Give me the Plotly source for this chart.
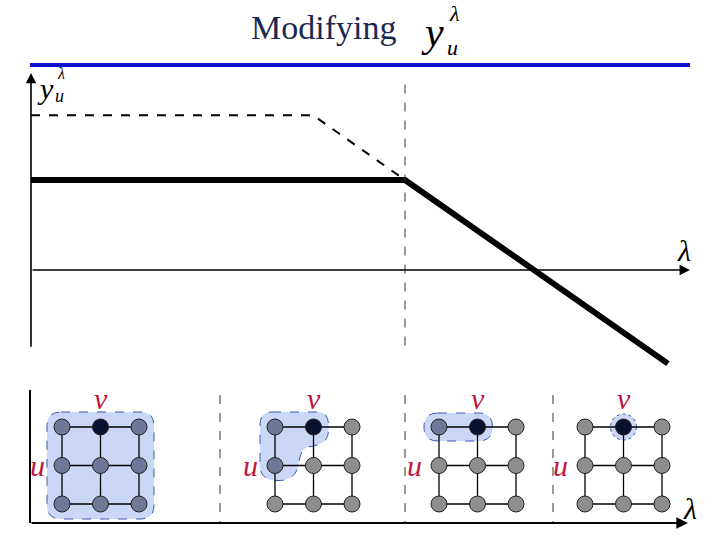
import plotly.graph_objects as go

# ---------------- data ----------------
# upper chart (lambda on x, y_u^lambda on y)
lam_solid = [0.0, 1.0, 1.703]
y_solid = [1.0, 1.0, -1.04]
lam_dash = [0.0, 0.754, 1.0]
y_dash = [1.72, 1.72, 1.0]
lam_threshold = 1.0

# lower panels: 3x3 grids, state of each node (row by row, top row first)
# 'v' = node v, 'h' = in highlighted set, 'g' = other node
panel_states = [
    ["hvh", "hhh", "hhh"],
    ["hvg", "hgg", "ggg"],
    ["hvg", "ggg", "ggg"],
    ["gvg", "ggg", "ggg"],
]
panel_x0 = [62, 275, 439, 585]   # left column centre of each panel
grid_top = 427
grid_step = 38.5
separators_x = [220, 405, 553]

# ---------------- styles ----------------
RED = "#C0143C"
NAVY = "#0A1030"
HL = "#6E7899"
GREY = "#8E8E8E"
BLOB_FILL = "rgba(160,182,240,0.55)"
BLOB_LINE = "#3A5AA8"
SERIF = "Liberation Serif"

fig = go.Figure()

# upper chart lines
fig.add_trace(go.Scatter(x=lam_dash, y=y_dash, mode="lines",
                         line=dict(color="black", width=2, dash="dash"),
                         hoverinfo="skip"))
fig.add_trace(go.Scatter(x=lam_solid, y=y_solid, mode="lines",
                         line=dict(color="black", width=6),
                         hoverinfo="skip"))

shapes = []
annotations = []

# axes of the upper chart (arrows)
annotations.append(dict(x=1.762, y=0, ax=0, ay=0, xref="x", yref="y",
                        axref="x", ayref="y", showarrow=True, arrowhead=2,
                        arrowsize=1.3, arrowwidth=1.6, arrowcolor="black", text=""))
annotations.append(dict(x=0, y=2.19, ax=0, ay=-0.87, xref="x", yref="y",
                        axref="x", ayref="y", showarrow=True, arrowhead=2,
                        arrowsize=1.3, arrowwidth=1.6, arrowcolor="black", text=""))
# threshold dashed line
shapes.append(dict(type="line", xref="x", yref="y", x0=lam_threshold, x1=lam_threshold,
                   y0=2.06, y1=-0.94, line=dict(color="#333", width=1, dash="dash")))

# title bar
shapes.append(dict(type="line", xref="x2", yref="y2", x0=30, x1=690, y0=65, y1=65,
                   line=dict(color="#1010D0", width=4)))

# lower axes
annotations.append(dict(x=688, y=523, ax=30, ay=523, xref="x2", yref="y2",
                        axref="x2", ayref="y2", showarrow=True, arrowhead=2,
                        arrowsize=1.3, arrowwidth=1.8, arrowcolor="black", text=""))
shapes.append(dict(type="line", xref="x2", yref="y2", x0=30, x1=30, y0=390, y1=523,
                   line=dict(color="black", width=2)))
for sx in separators_x:
    shapes.append(dict(type="line", xref="x2", yref="y2", x0=sx, x1=sx, y0=395, y1=523,
                       line=dict(color="#333", width=1, dash="dash")))

# blobs
def rect_path(x0, y0, x1, y1, r):
    return (f"M {x0+r},{y0} L {x1-r},{y0} Q {x1},{y0} {x1},{y0+r} "
            f"L {x1},{y1-r} Q {x1},{y1} {x1-r},{y1} L {x0+r},{y1} "
            f"Q {x0},{y1} {x0},{y1-r} L {x0},{y0+r} Q {x0},{y0} {x0+r},{y0} Z")

def col(p, c):
    return panel_x0[p] + c * grid_step

def row(r):
    return grid_top + r * grid_step

pad = 15
# panel 1: whole grid
blob_paths = [rect_path(col(0, 0) - pad, row(0) - pad, col(0, 2) + pad, row(2) + pad, 14)]
# panel 2: L shape around (0,0),(1,0),(0,1)
a, b = col(1, 0), col(1, 1)
t, m = row(0), row(1)
blob_paths.append(
    f"M {a-3},{t-pad} L {b+4},{t-pad} Q {b+pad},{t-pad} {b+pad},{t-2} "
    f"L {b+pad},{t+4} Q {b+pad},{t+18} {b-6},{t+20} Q {a+26},{t+22} {a+24},{m-4} "
    f"Q {a+22},{m+pad+1} {a+2},{m+pad} Q {a-pad},{m+pad} {a-pad},{m} "
    f"L {a-pad},{t-2} Q {a-pad},{t-pad} {a-3},{t-pad} Z")
# panel 3: capsule around (0,0),(1,0)
blob_paths.append(rect_path(col(2, 0) - pad, row(0) - pad + 1, col(2, 1) + pad, row(0) + pad - 1, 14))
for pth in blob_paths:
    shapes.append(dict(type="path", xref="x2", yref="y2", path=pth, layer="below",
                       fillcolor=BLOB_FILL, line=dict(color=BLOB_LINE, width=1, dash="dash")))
# panel 4: circle around v
cx, cy = col(3, 1), row(0)
shapes.append(dict(type="circle", xref="x2", yref="y2", x0=cx - 13, x1=cx + 13,
                   y0=cy - 13, y1=cy + 13, layer="below", fillcolor=BLOB_FILL,
                   line=dict(color=BLOB_LINE, width=1, dash="dot")))

# grid edges and nodes
colors = {"v": NAVY, "h": HL, "g": GREY}
for p, states in enumerate(panel_states):
    ex, ey = [], []
    for r in range(3):
        ex += [col(p, 0), col(p, 2), None]
        ey += [row(r), row(r), None]
    for c in range(3):
        ex += [col(p, c), col(p, c), None]
        ey += [row(0), row(2), None]
    fig.add_trace(go.Scatter(x=ex, y=ey, xaxis="x2", yaxis="y2", mode="lines",
                             line=dict(color="black", width=1.3), hoverinfo="skip"))
    nx, ny, nc = [], [], []
    for r in range(3):
        for c in range(3):
            nx.append(col(p, c))
            ny.append(row(r))
            nc.append(colors[states[r][c]])
    fig.add_trace(go.Scatter(x=nx, y=ny, xaxis="x2", yaxis="y2", mode="markers",
                             marker=dict(size=16, color=nc, line=dict(color="#222", width=1)),
                             hoverinfo="skip"))
    # labels
    annotations.append(dict(x=col(p, 0) - 25, y=row(1), xref="x2", yref="y2", text="<i>u</i>",
                            showarrow=False, font=dict(family=SERIF, size=30, color=RED)))
    annotations.append(dict(x=col(p, 1), y=row(0) - 29, xref="x2", yref="y2", text="<i>v</i>",
                            showarrow=False, font=dict(family=SERIF, size=30, color=RED)))

# lambda labels
for lx, ly in [(684, 250), (690, 508)]:
    annotations.append(dict(x=lx, y=ly, xref="x2", yref="y2", text="<i>λ</i>", showarrow=False,
                            font=dict(family=SERIF, size=30, color="black")))

# y_u^lambda axis label
annotations += [
    dict(x=45, y=88, xref="x2", yref="y2", text="<i>y</i>", showarrow=False,
         font=dict(family=SERIF, size=30, color="black")),
    dict(x=61, y=73, xref="x2", yref="y2", text="<i>λ</i>", showarrow=False,
         font=dict(family=SERIF, size=16, color="black")),
    dict(x=59, y=96, xref="x2", yref="y2", text="<i>u</i>", showarrow=False,
         font=dict(family=SERIF, size=18, color="black")),
]

# title
TITLE_C = "#1A2850"
annotations += [
    dict(x=323, y=27, xref="x2", yref="y2", text="Modifying", showarrow=False,
         font=dict(family=SERIF, size=34, color=TITLE_C)),
    dict(x=432, y=32, xref="x2", yref="y2", text="<i>y</i>", showarrow=False,
         font=dict(family=SERIF, size=42, color="black")),
    dict(x=454, y=13, xref="x2", yref="y2", text="<i>λ</i>", showarrow=False,
         font=dict(family=SERIF, size=22, color="black")),
    dict(x=452, y=47, xref="x2", yref="y2", text="<i>u</i>", showarrow=False,
         font=dict(family=SERIF, size=22, color="black")),
]

fig.update_layout(
    width=720, height=540, margin=dict(l=0, r=0, t=0, b=0),
    paper_bgcolor="white", plot_bgcolor="white", showlegend=False,
    xaxis=dict(range=[-31 / 374, 689 / 374], visible=False, fixedrange=True),
    yaxis=dict(range=[-3, 3], visible=False, fixedrange=True),
    xaxis2=dict(range=[0, 720], overlaying="x", visible=False, fixedrange=True),
    yaxis2=dict(range=[540, 0], overlaying="y", visible=False, fixedrange=True),
    shapes=shapes, annotations=annotations,
)

fig.write_html("out.html", config={"displayModeBar": False},
               post_script="document.body.style.margin='0';")
